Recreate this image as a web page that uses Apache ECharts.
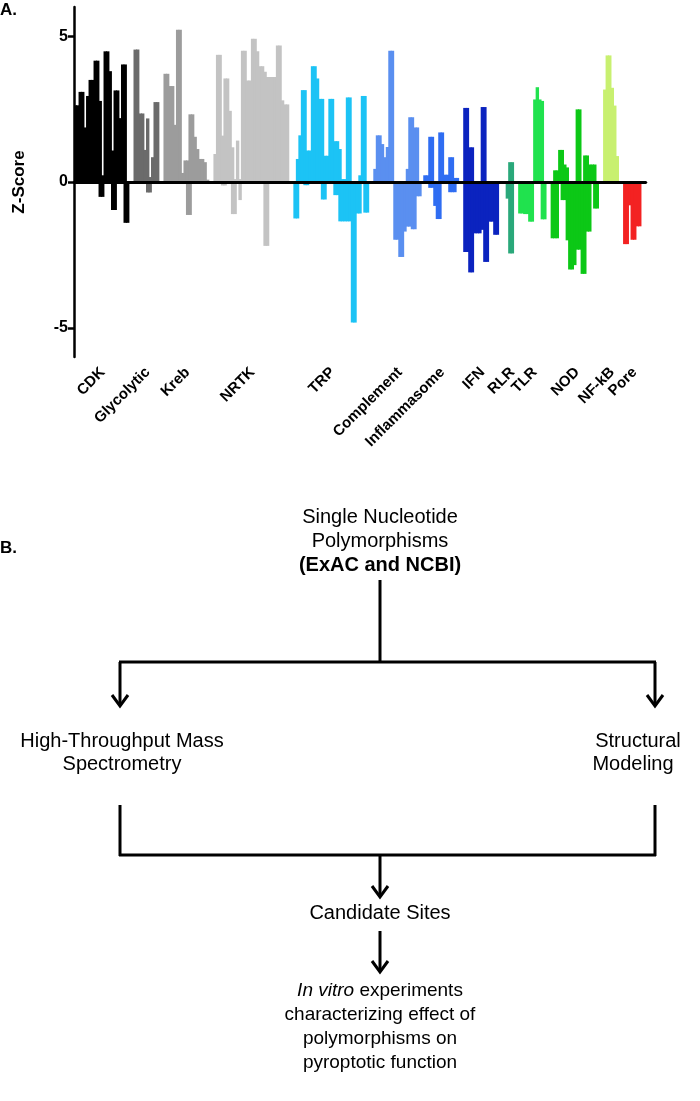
<!DOCTYPE html>
<html><head><meta charset="utf-8">
<script src="https://cdn.jsdelivr.net/npm/echarts@6.0.0/dist/echarts.min.js"></script>
<style>html,body{margin:0;padding:0;background:#fff}#c{width:700px;height:1101px}</style>
</head><body><div id="c"></div>
<script>
// ---- data ----
const groupNames = ['CDK','Glycolytic','Kreb','NRTK','TRP','Complement','Inflammasome','IFN','RLR','TLR','NOD','NF-kB','Pore'];
const groupColors = ['#000000','#6b6b6b','#9c9c9c','#c3c3c3','#1cc3f5','#5a8ff0','#2f6df2','#0b23bf','#2aa87a','#20e24e','#0cc816','#c8f070','#f32222'];
const gapsBefore = [0,2,2,2,2,2,1,2,3,2,2,2,2];
const trailingGap = 2;
const yTicks = [-5, 0, 5];

const cdkUp  = [2.63,2.63,3.09,3.09,1.87,2.95,3.5,3.5,4.16,4.16,2.78,0.23,4.48,4.48,3.8,1.08,3.14,3.14,2.19,4.03,4.03,null];
const cdkDn  = [null,null,null,null,null,null,null,null,null,null,-0.51,-0.51,null,null,null,-0.96,-0.96,null,null,null,-1.4,-1.4];
const glyUp  = [4.54,4.54,2.35,2.35,1.1,2.18,0.17,0.85,2.74,2.74];
const glyDn  = [null,null,null,null,null,-0.36,-0.36,null,null,null];
const krebUp = [3.71,3.71,3.29,3.29,1.96,5.22,5.22,0.31,0.74,0.74,2.32,2.32,1.55,1.13,0.79,0.79,0.68,0.08];
const krebDn = [null,null,null,null,null,null,null,null,null,-1.13,-1.13,null,null,null,null,null,null,null];
const nrtkUp = [0.96,4.36,4.36,1.59,3.55,3.55,2.44,1.19,0.1,1.42,0.1,4.5,4.5,3.48,3.48,4.91,4.91,4.48,3.97,3.97,3.78,3.6,3.6,3.6,3.6,4.68,4.68,2.8,2.66,2.66];
const nrtkDn = [null,null,null,-0.12,-0.12,null,null,-1.1,-1.1,null,-0.62,null,null,null,null,null,null,null,null,null,-2.19,-2.19,null,null,null,null,null,null,null,null];
const trpUp  = [null,0.79,1.6,3.15,3.15,1.08,1.08,3.97,3.97,3.55,2.85,2.85,0.9,0.9,2.85,2.85,1.4,1.4,1.13,0.1,0.1,2.9,2.9,null,null,null,0.23,2.95,2.95,null];
const trpDn  = [-1.25,-1.25,null,null,-0.11,-0.11,null,null,null,null,null,-0.6,-0.6,null,null,null,-0.45,-0.45,-1.35,-1.35,-1.35,-1.35,-1.35,-4.82,-4.82,-1.08,-1.08,null,-1.05,-1.05];
const compUp = [0.45,1.6,1.6,1.3,0.85,1.2,4.5,4.5,null,null,null,null,null,0.45,2.22,2.22,1.87,1.87,null];
const compDn = [null,null,null,null,null,null,null,null,-1.98,-1.98,-2.57,-2.57,-1.7,-1.53,-1.53,-1.62,-1.62,-0.49,-0.49];
const inflUp = [0.23,0.23,1.55,1.55,null,null,1.7,1.7,0.25,0.25,0.85,0.85,0.14,0.14];
const inflDn = [null,null,-0.2,-0.2,-0.82,-1.27,-1.27,null,null,null,-0.35,-0.35,-0.35,null];
const ifnUp  = [2.54,2.54,1.19,1.19,null,null,null,2.57,2.57,null,null,null,null,null];
const ifnDn  = [-2.4,-2.4,-3.1,-3.1,-1.76,-1.76,-1.76,-1.64,-2.74,-2.74,-1.36,-1.36,-1.81,-1.81];
const rlrUp  = [null,0.68,0.68];
const rlrDn  = [-0.57,-2.45,-2.45];
const tlrUp  = [null,null,null,null,null,null,2.83,3.25,2.83,2.78,null];
const tlrDn  = [-1.08,-1.08,-1.1,-1.1,-1.36,-1.36,null,null,null,-1.28,-1.28];
const nodUp  = [null,0.4,0.4,1.1,1.1,0.6,0.5,null,null,null,2.49,2.49,null,0.91,0.91,0.6,0.6,0.6,null];
const nodDn  = [-1.93,-1.93,-1.93,null,-0.62,-0.62,-2.0,-3.0,-3.0,-2.85,-2.32,-2.32,-3.15,-3.15,-1.7,-1.7,null,-0.91,-0.91];
const nfkbUp = [3.17,4.34,4.34,3.23,2.62,0.89];
const nfkbDn = [null,null,null,null,null,null];
const poreUp = [null,null,null,null,null,null,null];
const poreDn = [-2.13,-2.13,-0.8,-1.98,-1.98,-1.52,-1.52];

const groupUp = [cdkUp,glyUp,krebUp,nrtkUp,trpUp,compUp,inflUp,ifnUp,rlrUp,tlrUp,nodUp,nfkbUp,poreUp];
const groupDn = [cdkDn,glyDn,krebDn,nrtkDn,trpDn,compDn,inflDn,ifnDn,rlrDn,tlrDn,nodDn,nfkbDn,poreDn];

// ---- build category slots ----
const categories = [], upData = [], dnData = [];
const tickSlots = new Map();
function item(v, c){ return v == null ? null : {value: v, itemStyle: {color: c}}; }
function pushGap(n){ for (let k = 0; k < n; k++){ categories.push(''); upData.push(null); dnData.push(null); } }
groupNames.forEach((name, g) => {
  pushGap(gapsBefore[g]);
  const start = categories.length, len = groupUp[g].length;
  for (let k = 0; k < len; k++){
    categories.push(name);
    upData.push(item(groupUp[g][k], groupColors[g]));
    dnData.push(item(groupDn[g][k], groupColors[g]));
  }
  tickSlots.set(Math.round(start + len / 2), name);
});
pushGap(trailingGap);

const FONT = "'Liberation Sans', Arial, Helvetica, sans-serif";
const txt = (x, y, text, extra) => ({type:'text', silent:true, style: Object.assign({x, y, text, fill:'#000', fontFamily: FONT, fontSize: 20, align:'center', verticalAlign:'middle'}, extra || {})});
const ln = (x1, y1, x2, y2) => ({type:'line', silent:true, shape:{x1, y1, x2, y2}, style:{stroke:'#000', lineWidth:3}});
const head = (x, y) => ({type:'polyline', silent:true, shape:{points:[[x-8, y-11],[x, y],[x+8, y-11]]}, style:{stroke:'#000', lineWidth:3, fill:null}});

const chart = echarts.init(document.getElementById('c'), null, {renderer:'canvas'});
chart.setOption({
  animation: false,
  backgroundColor: '#fff',
  grid: {left: 74, right: 54, top: 7, bottom: 744, containLabel: false},
  xAxis: {
    type: 'category', data: categories, boundaryGap: true,
    axisLine: {lineStyle: {color: '#000', width: 2.5}},
    axisTick: {interval: (i) => tickSlots.has(i), alignWithLabel: true, length: 8, lineStyle: {color: '#000', width: 2.5}},
    axisLabel: {interval: (i) => tickSlots.has(i), formatter: (v, i) => tickSlots.get(i) || '', rotate: 45, margin: 13,
      color: '#000', fontWeight: 'bold', fontSize: 15, fontFamily: FONT},
    splitLine: {show: false}
  },
  yAxis: {
    type: 'value', min: -6, max: 6,
    name: 'Z-Score', nameLocation: 'middle', nameRotate: 90, nameGap: 46,
    nameTextStyle: {color: '#000', fontWeight: 'bold', fontSize: 17, fontFamily: FONT},
    axisLine: {show: true, lineStyle: {color: '#000', width: 2.5}},
    axisTick: {show: true, customValues: yTicks, length: 6, lineStyle: {color: '#000', width: 2.5}},
    axisLabel: {customValues: yTicks, color: '#000', fontWeight: 'bold', fontSize: 16, fontFamily: FONT, margin: 6},
    splitLine: {show: false}
  },
  series: [
    {type: 'bar', name: 'up', data: upData, barWidth: 3.4, barGap: '-100%',
     markLine: {silent: true, symbol: ['none','none'], label: {show: false}, animation: false,
       lineStyle: {color: '#000', width: 3, type: 'solid'}, data: [{yAxis: 0}]}},
    {type: 'bar', name: 'down', data: dnData, barWidth: 3.4, barGap: '-100%'}
  ],
  graphic: [
    txt(0, 10, 'A.', {align:'left', fontWeight:'bold', fontSize:17}),
    txt(0, 548, 'B.', {align:'left', fontWeight:'bold', fontSize:17}),
    txt(380, 517, 'Single Nucleotide'),
    txt(380, 541, 'Polymorphisms'),
    txt(380, 565, '(ExAC and NCBI)', {fontWeight:'bold'}),
    ln(380, 580, 380, 662),
    ln(119, 662, 656, 662),
    ln(120, 662, 120, 705), head(120, 706),
    ln(655, 662, 655, 705), head(655, 706),
    txt(122, 741, 'High-Throughput Mass'),
    txt(122, 764, 'Spectrometry'),
    txt(638, 741, 'Structural'),
    txt(633, 764, 'Modeling'),
    ln(120, 805, 120, 856),
    ln(655, 805, 655, 856),
    ln(119, 855, 656, 855),
    ln(380, 855, 380, 896), head(380, 897),
    txt(380, 913, 'Candidate Sites'),
    ln(380, 931, 380, 971), head(380, 972),
    {type:'text', silent:true, style:{x:380, y:991, text:'{i|In vitro} experiments', fill:'#000', fontFamily: FONT, fontSize:19, align:'center', verticalAlign:'middle',
      rich:{i:{fontStyle:'italic', fontFamily: FONT, fontSize:19, fill:'#000'}}}},
    txt(380, 1015, 'characterizing effect of', {fontSize:19}),
    txt(380, 1039, 'polymorphisms on', {fontSize:19}),
    txt(380, 1063, 'pyroptotic function', {fontSize:19})
  ]
});
</script>
</body></html>
